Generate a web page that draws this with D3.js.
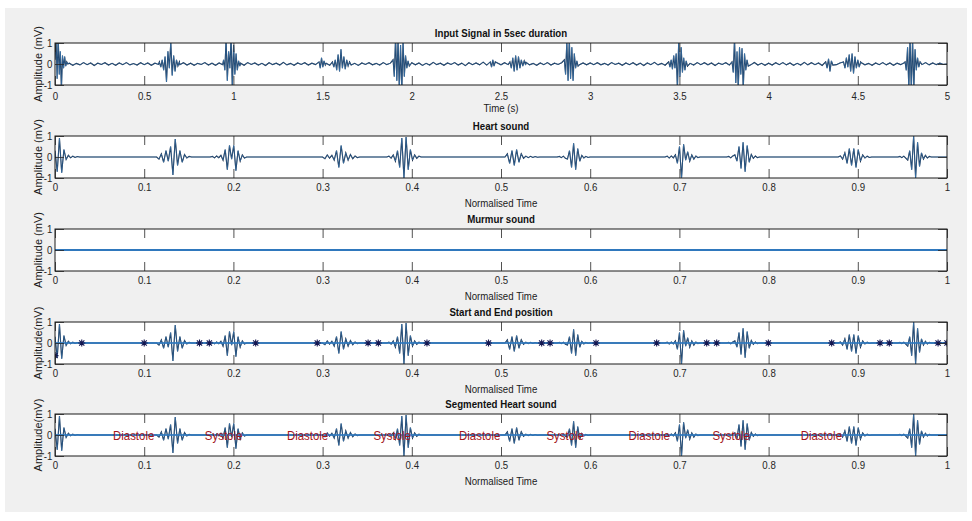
<!DOCTYPE html>
<html>
<head>
<meta charset="utf-8">
<script src="https://cdn.jsdelivr.net/npm/d3@7"></script>
<style>
  body { margin: 0; background: #fff; }
  svg text { font-family: "Liberation Sans", Arial, sans-serif; fill: #262626; }
</style>
</head>
<body>
<div id="chart"></div>
<script>
// ---- data ----
const timeTicks = [0, 0.5, 1, 1.5, 2, 2.5, 3, 3.5, 4, 4.5, 5];
const timeTickLabels = ["0", "0.5", "1", "1.5", "2", "2.5", "3", "3.5", "4", "4.5", "5"];
const normTicks = [0, 0.1, 0.2, 0.3, 0.4, 0.5, 0.6, 0.7, 0.8, 0.9, 1];
const normTickLabels = ["0", "0.1", "0.2", "0.3", "0.4", "0.5", "0.6", "0.7", "0.8", "0.9", "1"];
const ampTicks = [-1, 0, 1];
const ampTickLabels = ["-1", "0", "1"];

// input signal: baseline wiggle, one value every 0.02 s
const inputNoiseStep = 0.02;
const inputNoise = [
  0, 0, 0, 0, 0.04, -0.06, 0.03, -0.04, 0.07, -0.03, 0.05, -0.07, 0.04, -0.02, 0.06, -0.05, 0.03, -0.06, 0.05, -0.03, 0.07, -0.04, 0.02, -0.05, 0.06,
  -0.03, 0.05, -0.06, 0.04, -0.02, 0.08, -0.04, 0.03, -0.07, 0.05, -0.03, 0.06, -0.05, 0.04, -0.06, 0.03, -0.02, 0.07, -0.05, 0.04, -0.06, 0.05, -0.03, 0.06, -0.04,
  0.05, -0.03, 0.04, -0.06, 0.07, -0.02, 0.05, -0.05, 0.03, -0.07, 0.06, -0.03, 0.04, -0.05, 0.08, -0.04, 0.03, -0.06, 0.05, -0.02, 0.06, -0.05, 0.04, -0.03, 0.07,
  -0.05, 0.04, -0.06, 0.05, -0.03, 0.07, -0.04, 0.06, -0.05, 0.03, -0.07, 0.05, -0.02, 0.06, -0.04, 0.03, -0.05, 0.07, -0.03, 0.04, -0.06, 0.05, -0.04, 0.06, -0.03,
  0.06, -0.04, 0.05, -0.07, 0.03, -0.05, 0.08, -0.03, 0.04, -0.06, 0.05, -0.02, 0.07, -0.05, 0.04, -0.08, 0.06, -0.03, 0.05, -0.04, 0.09, -0.05, 0.03, -0.06, 0.05,
  -0.04, 0.06, -0.03, 0.05, -0.07, 0.04, -0.05, 0.08, -0.04, 0.03, -0.06, 0.05, -0.03, 0.07, -0.05, 0.04, -0.02, 0.06, -0.05, 0.03, -0.06, 0.04, -0.03, 0.05, -0.04,
  0.05, -0.03, 0.06, -0.04, 0.03, -0.05, 0.07, -0.02, 0.04, -0.06, 0.05, -0.03, 0.06, -0.05, 0.04, -0.07, 0.05, -0.03, 0.08, -0.04, 0.03, -0.06, 0.05, -0.04, 0.07,
  -0.04, 0.05, -0.06, 0.03, -0.05, 0.07, -0.03, 0.06, -0.04, 0.05, -0.07, 0.04, -0.02, 0.06, -0.05, 0.08, -0.03, 0.04, -0.06, 0.05, -0.04, 0.07, -0.05, 0.03, -0.06,
  0.04, -0.05, 0.06, -0.03, 0.07, -0.04, 0.05, -0.06, 0.03, -0.05, 0.08, -0.04, 0.06, -0.03, 0.05, -0.07, 0.04, -0.05, 0.06, -0.03, 0.05, -0.04, 0.07, -0.05, 0.04,
  -0.05, 0.06, -0.04, 0.03, -0.06, 0.05, -0.03, 0.07, -0.04, 0.05, -0.06, 0.04, -0.03, 0.06, -0.05, 0.04, -0.06, 0.05, -0.03, 0.07, -0.04, 0.05, -0.03, 0.04, -0.02,
  0
];

// input signal bursts: [start (s), step (s), successive peak values]
const inputBursts = [
  [0.000, 0.006, [0.2, 1.2, -0.7, 1.3, -0.5, 0.6, -1.2, 0.4, -0.2, 0.35, -0.1, 0.1, 0]],
  [0.585, 0.008, [0.1, -0.15, 0.2, -0.3, 0.35, -0.85, 0.6, -0.2, 1.05, -0.55, 0.4, -0.35, 0.2, -0.1, 0.1]],
  [0.945, 0.007, [0.2, -0.3, 1.2, -0.8, 0.6, -0.2, 1.3, -1.2, 0.9, -0.5, 0.5, -0.3, 0.15, -0.1]],
  [1.480, 0.007, [0.1, -0.2, 0.3, -0.15, 0.15, -0.05]],
  [1.555, 0.008, [0.1, -0.15, 0.2, -0.3, 0.45, -0.35, 0.7, -0.2, 0.35, -0.25, 0.2, -0.1, 0.1]],
  [1.895, 0.007, [0.2, -0.6, 1.3, -0.8, 1.2, -1.2, 0.9, -1.3, 1.1, -0.6, 0.4, -0.2, 0.15, -0.1]],
  [2.440, 0.007, [0.1, -0.15, 0.2, -0.1, 0.1]],
  [2.550, 0.008, [0.1, -0.2, 0.3, -0.35, 0.4, -0.3, 0.35, -0.2, 0.2, -0.1, 0.15, -0.05]],
  [2.855, 0.007, [0.2, -0.5, 1.1, -0.8, 1.2, -0.7, 0.8, -0.8, 0.5, -0.2, 0.15, -0.1]],
  [3.440, 0.007, [0.1, -0.15, 0.2, -0.25, 0.4, -0.2, 0.5, -1.2, 1.1, -0.6, 0.8, -0.4, 0.3, -0.3, 0.15, -0.1]],
  [3.795, 0.007, [0.1, -0.4, 1.2, -0.9, 0.6, -1.2, 0.8, -0.5, 0.75, -1.2, 0.5, -0.3, 0.2, -0.1]],
  [4.320, 0.008, [0.1, -0.2, 0.25, -0.35, 0.15, -0.05]],
  [4.420, 0.008, [0.1, -0.2, 0.3, -0.15, 0.45, -0.35, 0.5, -0.45, 0.35, -0.2, 0.2, -0.15, 0.1]],
  [4.765, 0.007, [0.1, -0.3, 0.8, -1.2, 1.3, -1.3, 1.2, -1.2, 0.7, -0.3, 0.3, -0.15, 0.1]]
];

// filtered heart sound bursts, normalised time: [start, step, peak values]
const heartBursts = [
  [0.000, 0.0025, [0.3, -0.7, 0.9, -0.75, 0.35, -0.12, 0.08, -0.04, 0.04, -0.02, 0.02, 0]],
  [0.114, 0.0026, [0, -0.1, 0.15, -0.25, 0.3, -0.2, 0.5, -0.85, 0.85, -0.4, 0.3, -0.25, 0.12, -0.05, 0.03, 0]],
  [0.174, 0.0024, [0, 0.03, -0.04, 0.05, -0.03, 0.08, -0.15, 0.35, -0.6, 0.55, -0.1, 0.55, -0.65, 0.3, -0.2, 0.1, -0.05, 0]],
  [0.300, 0.0026, [0, -0.08, 0.1, -0.05, 0.08, -0.15, 0.3, -0.5, 0.55, -0.3, 0.2, -0.15, 0.12, -0.08, 0.05, -0.03, 0]],
  [0.372, 0.0024, [0, 0.04, -0.05, 0.1, -0.2, 0.3, -0.5, 0.9, -1.0, 0.95, -0.6, 0.35, -0.15, 0.1, -0.06, 0.04, 0]],
  [0.5045, 0.0026, [0, 0.15, -0.3, 0.3, -0.4, 0.35, -0.25, 0.15, -0.06, 0.04, -0.03, 0.03, -0.02, 0.02, -0.01, 0]],
  [0.563, 0.0023, [0, 0.03, -0.03, 0.04, -0.06, -0.1, 0.3, -0.5, 0.65, -0.6, 0.4, -0.2, 0.08, -0.05, 0.03, -0.02, 0]],
  [0.684, 0.0023, [0, 0.04, -0.05, 0.05, -0.04, 0.1, -0.3, 0.5, -1.0, 0.6, -0.15, 0.25, -0.2, 0.1, -0.1, 0.05, -0.03, 0]],
  [0.753, 0.0023, [0, 0.03, -0.04, 0.05, 0.1, -0.2, 0.5, -0.55, 0.7, -0.7, 0.55, -0.25, 0.12, -0.06, 0.05, -0.03, 0]],
  [0.878, 0.0025, [0, 0.05, -0.1, 0.2, -0.3, 0.4, -0.4, 0.4, -0.5, 0.35, -0.2, 0.1, -0.05, 0.04, -0.02, 0]],
  [0.945, 0.0022, [0, 0.03, -0.03, 0.04, -0.05, -0.15, 0.3, -0.6, 1.0, -1.0, 0.7, -0.45, 0.2, -0.1, 0.08, -0.05, 0.03, 0]]
];

// murmur sound: flat zero
const murmurT = [0, 1];
const murmurV = [0, 0];

// start / end positions (normalised time) and their marker values
const markT = [0.0, 0.030, 0.100, 0.162, 0.173, 0.225, 0.294, 0.351, 0.3625, 0.417, 0.486,
  0.5456, 0.555, 0.6065, 0.6745, 0.7306, 0.7418, 0.7997, 0.8707, 0.9249, 0.9353, 0.990, 1.0];
const markV = [-0.6, 0, 0, 0, 0, 0, 0, 0, 0, 0, 0, 0, 0, 0, 0, 0, 0, 0, 0, 0, 0, 0, 0];

// segment labels
const segText = ["Diastole", "Systole", "Diastole", "Systole", "Diastole", "Systole", "Diastole", "Systole", "Diastole"];
const segT = [0.065, 0.168, 0.260, 0.357, 0.453, 0.551, 0.643, 0.737, 0.836];

// ---- build series from the bursts ----
function buildSeries(bursts, base, baseStep, tEnd) {
  const pts = [];
  const spans = bursts.map(([t0, dt, v]) => [t0, t0 + dt * (v.length - 1)]);
  bursts.forEach(([t0, dt, v]) => v.forEach((d, i) => pts.push([t0 + i * dt, d])));
  const inside = t => spans.some(([a, b]) => t >= a - 1e-9 && t <= b + 1e-9);
  if (base) {
    base.forEach((d, i) => { const t = i * baseStep; if (!inside(t)) pts.push([t, d]); });
  } else {
    [[0, 0], [tEnd, 0]].forEach(p => { if (!inside(p[0])) pts.push(p); });
  }
  return pts.sort((a, b) => a[0] - b[0]);
}

const inputSeries = buildSeries(inputBursts, inputNoise, inputNoiseStep, 5);
const heartSeries = buildSeries(heartBursts, null, 0, 1);
const murmurSeries = murmurT.map((t, i) => [t, murmurV[i]]);

// ---- layout ----
const width = 972;
const height = 521;
const plotLeft = 55, plotRight = 947, plotH = 42;
const squeeze = 0.88; // text in the figure is slightly narrow

const panels = [
  { top: 43, title: "Input Signal in 5sec duration", xlabel: "Time (s)", ylabel: "Amplitude (mV)",
    domain: [0, 5], ticks: timeTicks, tickLabels: timeTickLabels, series: inputSeries, tickPad: 7, labelDy: 23 },
  { top: 136, title: "Heart sound", xlabel: "Normalised Time", ylabel: "Amplitude (mV)",
    domain: [0, 1], ticks: normTicks, tickLabels: normTickLabels, series: heartSeries, tickPad: 5, labelDy: 25 },
  { top: 229, title: "Murmur sound", xlabel: "Normalised Time", ylabel: "Amplitude (mV)",
    domain: [0, 1], ticks: normTicks, tickLabels: normTickLabels, flat: murmurSeries, tickPad: 5, labelDy: 25 },
  { top: 322, title: "Start and End position", xlabel: "Normalised Time", ylabel: "Amplitude(mV)",
    domain: [0, 1], ticks: normTicks, tickLabels: normTickLabels, series: heartSeries, flat: murmurSeries, marks: true, tickPad: 5, labelDy: 25 },
  { top: 414, title: "Segmented Heart sound", xlabel: "Normalised Time", ylabel: "Amplitude(mV)",
    domain: [0, 1], ticks: normTicks, tickLabels: normTickLabels, series: heartSeries, flat: murmurSeries, segments: true, tickPad: 5, labelDy: 25 }
];

const svg = d3.select("#chart")
  .append("svg")
  .attr("width", width)
  .attr("height", height);

// figure background
svg.append("rect")
  .attr("x", 5).attr("y", 8)
  .attr("width", 962).attr("height", 504)
  .attr("fill", "#f0f0f0");

const starPath = "M-3.5,0H3.5M0,-3.5V3.5M-2.6,-2.6L2.6,2.6M-2.6,2.6L2.6,-2.6";

panels.forEach((p, idx) => {
  const x = d3.scaleLinear().domain(p.domain).range([plotLeft, plotRight]);
  const y = d3.scaleLinear().domain([-1, 1]).range([p.top + plotH, p.top]);
  const g = svg.append("g");

  g.append("rect")
    .attr("x", plotLeft).attr("y", p.top)
    .attr("width", plotRight - plotLeft).attr("height", plotH)
    .attr("fill", "#fff");

  const clipId = "clip" + idx;
  g.append("clipPath").attr("id", clipId)
    .append("rect")
    .attr("x", plotLeft).attr("y", p.top)
    .attr("width", plotRight - plotLeft).attr("height", plotH);

  const line = d3.line().x(d => x(d[0])).y(d => y(d[1]));
  const data = g.append("g").attr("clip-path", `url(#${clipId})`);

  if (p.series) {
    data.append("path").datum(p.series)
      .attr("d", line).attr("fill", "none")
      .attr("stroke", "#08162e").attr("stroke-width", 1.1);
    data.append("path").datum(p.series)
      .attr("d", line).attr("fill", "none")
      .attr("stroke", "#4a94d6").attr("stroke-width", 0.5);
  }
  if (p.flat) {
    data.append("path").datum(p.flat)
      .attr("d", line).attr("fill", "none")
      .attr("stroke", "#2f78bd").attr("stroke-width", 1.8)
      .attr("stroke-opacity", p.series ? 0.85 : 1);
  }
  if (p.marks) {
    data.selectAll("path.star")
      .data(markT.map((t, i) => [t, markV[i]]))
      .join("path")
      .attr("class", "star")
      .attr("d", starPath)
      .attr("transform", d => `translate(${x(d[0])},${y(d[1])})`)
      .attr("fill", "none")
      .attr("stroke", "#14164f")
      .attr("stroke-width", 1.1);
  }

  // axes, MATLAB style inward ticks on all sides
  const tickLen = 9;
  const bottom = g.append("g")
    .attr("transform", `translate(0,${p.top + plotH})`)
    .call(d3.axisBottom(x).tickValues(p.ticks)
      .tickFormat((d, i) => p.tickLabels[i])
      .tickSizeInner(-tickLen).tickSizeOuter(0).tickPadding(p.tickPad));
  g.append("g")
    .attr("transform", `translate(0,${p.top})`)
    .call(d3.axisTop(x).tickValues(p.ticks).tickFormat("")
      .tickSizeInner(-tickLen).tickSizeOuter(0));
  const left = g.append("g")
    .attr("transform", `translate(${plotLeft},0)`)
    .call(d3.axisLeft(y).tickValues(ampTicks)
      .tickFormat((d, i) => ampTickLabels[i])
      .tickSizeInner(-tickLen).tickSizeOuter(0).tickPadding(3));
  g.append("g")
    .attr("transform", `translate(${plotRight},0)`)
    .call(d3.axisRight(y).tickValues(ampTicks).tickFormat("")
      .tickSizeInner(-tickLen).tickSizeOuter(0));

  g.selectAll(".domain").remove();
  g.selectAll(".tick line").attr("stroke", "#262626").attr("stroke-width", 0.8);
  [bottom, left].forEach(a => a.selectAll("text")
    .attr("font-size", 11)
    .attr("fill", "#1a1a1a")
    .attr("transform", `scale(${squeeze},1)`));

  // box
  g.append("rect")
    .attr("x", plotLeft).attr("y", p.top)
    .attr("width", plotRight - plotLeft).attr("height", plotH)
    .attr("fill", "none").attr("stroke", "#1a1a1a").attr("stroke-width", 1);

  if (p.segments) {
    g.selectAll("text.seg")
      .data(segT.map((t, i) => [t, segText[i]]))
      .join("text")
      .attr("class", "seg")
      .attr("transform", d => `translate(${x(d[0])},${y(0)}) scale(${squeeze},1)`)
      .attr("dy", "0.35em")
      .attr("font-size", 13)
      .style("fill", "#a3161c")
      .text(d => d[1]);
  }

  // title, x label, y label
  const cx = (plotLeft + plotRight) / 2;
  g.append("text")
    .attr("transform", `translate(${cx},${p.top - 6}) scale(${squeeze},1)`)
    .attr("text-anchor", "middle")
    .attr("font-size", 11).attr("font-weight", "bold")
    .style("fill", "#111")
    .text(p.title);
  g.append("text")
    .attr("transform", `translate(${cx},${p.top + plotH + p.labelDy}) scale(${squeeze},1)`)
    .attr("text-anchor", "middle").attr("dy", "0.35em")
    .attr("font-size", 11)
    .style("fill", "#1a1a1a")
    .text(p.xlabel);
  g.append("text")
    .attr("transform", `translate(38,${p.top + plotH / 2}) rotate(-90)`)
    .attr("text-anchor", "middle").attr("dy", "0.35em")
    .attr("font-size", 11)
    .style("fill", "#1a1a1a")
    .text(p.ylabel);
});
</script>
</body>
</html>
